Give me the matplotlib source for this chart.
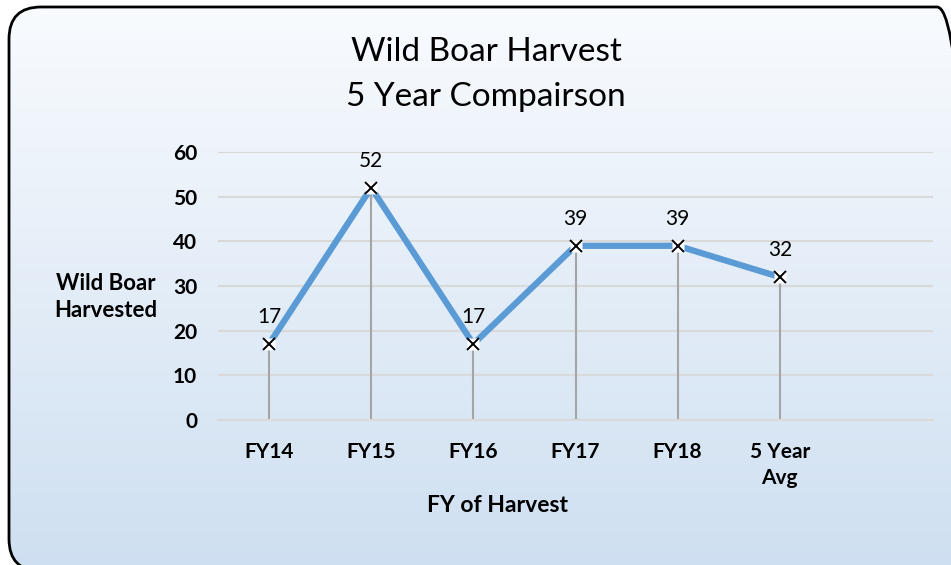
import numpy as np
import matplotlib.pyplot as plt
from matplotlib.patches import FancyBboxPatch

# chart data
categories = ['FY14', 'FY15', 'FY16', 'FY17', 'FY18', '5 Year\nAvg']
harvest = [17, 52, 17, 39, 39, 32]
y_ticks = [0, 10, 20, 30, 40, 50, 60]

plt.rcParams['font.family'] = ['Lato', 'DejaVu Sans']

W, H = 951, 565
fig = plt.figure(figsize=(W / 100, H / 100), dpi=100)

# background: rounded panel with vertical gradient (runs off right/bottom edge)
bg = fig.add_axes([0, 0, 1, 1])
bg.set_xlim(0, W)
bg.set_ylim(0, H)
bg.axis('off')
grad = np.linspace(0, 1, 256).reshape(-1, 1)
top = np.array([0.975, 0.984, 0.996])
bot = np.array([0.808, 0.875, 0.945])
img = top + grad[..., None] * (bot - top)
im = bg.imshow(img, extent=[8, 975, H - 572, H - 6], aspect='auto', origin='upper', zorder=0)
panel = FancyBboxPatch((9, H - 571), 960, 564, boxstyle='round,pad=0,rounding_size=32',
                       facecolor='none', edgecolor='black', linewidth=2, zorder=2)
bg.add_patch(panel)
im.set_clip_path(panel)

# main plot area
ax = fig.add_axes([218 / W, 1 - 420 / H, (933 - 218) / W, (420 - 152) / H])
ax.patch.set_alpha(0)
x = np.arange(len(categories))
ax.set_xlim(-0.5, len(categories) + 0.5)
ax.set_ylim(0, 60)

ax.set_yticks(y_ticks)
ax.yaxis.grid(True, color='#D9D9D9', linewidth=1.5)
ax.set_axisbelow(True)
for s in ['top', 'right', 'left']:
    ax.spines[s].set_visible(False)
ax.spines['bottom'].set_color('#D9D9D9')
ax.spines['bottom'].set_linewidth(1.5)
ax.tick_params(axis='both', length=0)
ax.tick_params(axis='y', pad=15)
ax.tick_params(axis='x', pad=16)
ax.set_xticks(x)
ax.set_xticklabels(categories, fontsize=15, fontweight='bold', linespacing=1.35, va='top')
for lbl in ax.get_yticklabels():
    lbl.set_fontsize(15)
    lbl.set_fontweight('bold')

# drop lines
ax.vlines(x, 0, harvest, color='#A5A5A5', linewidth=1.5, zorder=2)
# series line
ax.plot(x, harvest, color='#5B9BD5', linewidth=4.5, zorder=3, solid_capstyle='butt')
ax.plot(x, harvest, linestyle='none', marker='s', markersize=9,
        markerfacecolor='white', markeredgecolor='none', zorder=4)
ax.plot(x, harvest, linestyle='none', marker='x', markersize=9,
        markeredgecolor='black', markeredgewidth=1.4, zorder=5)

for xi, v in zip(x, harvest):
    ax.annotate(str(v), (xi, v), xytext=(0, 12), textcoords='offset points',
                ha='center', va='bottom', fontsize=15)

fig.text(486 / W, 1 - 52 / H, 'Wild Boar Harvest', ha='center', va='center', fontsize=24)
fig.text(486 / W, 1 - 97 / H, '5 Year Compairson', ha='center', va='center', fontsize=24)
fig.text(106 / W, 1 - 297 / H, 'Wild Boar\nHarvested', ha='center', va='center',
         fontsize=16, fontweight='bold', linespacing=1.35)
fig.text(498 / W, 1 - 505 / H, 'FY of Harvest', ha='center', va='center',
         fontsize=16.5, fontweight='bold')

fig.savefig('out.png', dpi=100)
